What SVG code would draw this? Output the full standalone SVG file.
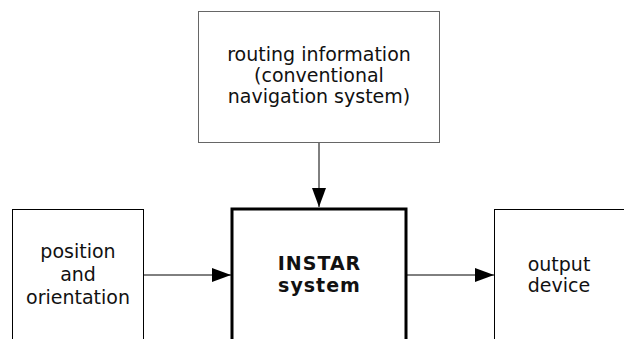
<svg xmlns="http://www.w3.org/2000/svg" width="624" height="339" viewBox="0 0 624 339">
<style>
.box{fill:#fff;stroke:#000;stroke-width:1}
.grey{stroke:#666}
.main{fill:#fff;stroke:#000;stroke-width:3}
.t{font-family:"DejaVu Sans",Verdana,sans-serif;font-size:19px;fill:#111;text-anchor:middle}
.b{font-weight:bold;letter-spacing:1px}
.c{fill:none;stroke:#000;stroke-width:1}
</style>
<defs>
<marker id="ah" markerUnits="userSpaceOnUse" markerWidth="20" markerHeight="16" refX="19" refY="7" orient="auto">
<path d="M0,0 L19,7 L0,14 Z" fill="#000"/>
</marker>
</defs>
<rect width="624" height="339" fill="#fff"/>
<g id="routing">
<rect class="box grey" x="198.5" y="11.5" width="241" height="131"/>
<text class="t" x="319" y="61">routing information</text>
<text class="t" x="319" y="82">(conventional</text>
<text class="t" x="319" y="103">navigation system)</text>
</g>
<g id="position">
<rect class="box" x="12.5" y="209.5" width="131" height="140"/>
<text class="t" x="78" y="258">position</text>
<text class="t" x="78" y="281">and</text>
<text class="t" x="78" y="304">orientation</text>
</g>
<g id="instar">
<rect class="main" x="232" y="209" width="174" height="150"/>
<text class="t b" x="319.5" y="270">INSTAR</text>
<text class="t b" x="319.5" y="292">system</text>
</g>
<g id="output">
<rect class="box" x="494.5" y="209.5" width="140" height="140"/>
<text class="t" x="559" y="271">output</text>
<text class="t" x="559" y="292">device</text>
</g>
<g id="connectors">
<line class="c grey" x1="319" y1="143" x2="319" y2="207" marker-end="url(#ah)" stroke-width="1.5"/>
<line class="c" x1="144" y1="275" x2="231" y2="275" marker-end="url(#ah)"/>
<line class="c" x1="406" y1="275" x2="494" y2="275" marker-end="url(#ah)"/>
</g>
</svg>
